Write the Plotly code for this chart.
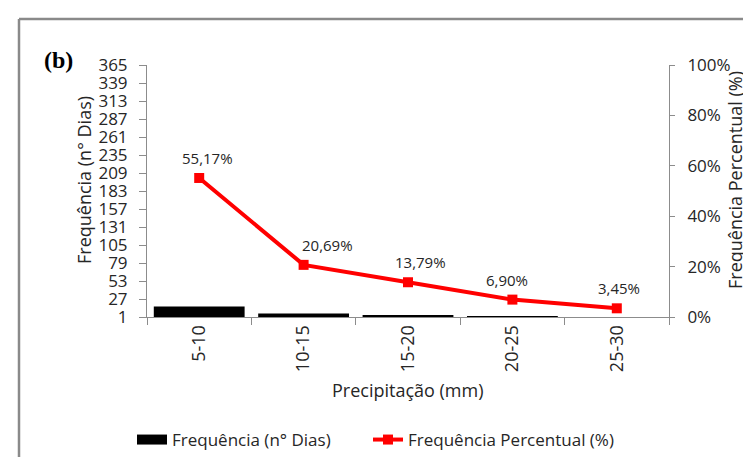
import plotly.graph_objects as go

categories = ["5-10", "10-15", "15-20", "20-25", "25-30"]
dias = [16, 6, 4, 2, 1]
percentual = [55.17, 20.69, 13.79, 6.90, 3.45]
percent_labels = ["55,17%", "20,69%", "13,79%", "6,90%", "3,45%"]
left_ticks = [1, 27, 53, 79, 105, 131, 157, 183, 209, 235, 261, 287, 313, 339, 365]
right_ticks = [0, 20, 40, 60, 80, 100]
right_tick_text = ["0%", "20%", "40%", "60%", "80%", "100%"]

label_xshift = [8, 24, 12, -5, 2]

FONT = "Open Sans"
TXT = "#262626"
AX = "#8c8c8c"

W, H = 751, 457
L, R, T, B = 139, 90, 57, 148
pw, ph = W - L - R, H - T - B


def px(x):
    return (x - L) / pw


def py(y):
    return (H - B - y) / ph


fig = go.Figure()
fig.add_trace(go.Bar(x=categories, y=dias, marker=dict(color="black", line=dict(width=0)),
                     showlegend=False, yaxis="y"))
# legend proxy for the bars (wide black rectangle as in Excel)
fig.add_trace(go.Scatter(x=[None], y=[None], mode="lines", line=dict(color="black", width=11),
                         name="Frequência (n° Dias)", legend="legend"))
fig.add_trace(go.Scatter(x=categories, y=percentual, mode="lines+markers", yaxis="y2",
                         line=dict(color="#ff0000", width=4),
                         marker=dict(symbol="square", size=10, color="#ff0000"),
                         name="Frequência Percentual (%)", legend="legend2"))

for c, v, t, dx in zip(categories, percentual, percent_labels, label_xshift):
    fig.add_annotation(x=c, y=v, yref="y2", text=t, showarrow=False, yshift=20, xshift=dx,
                       font=dict(family=FONT, size=15, color=TXT))

# frame
fig.add_shape(type="line", xref="paper", yref="paper", x0=px(11), x1=px(760), y0=py(11), y1=py(11),
              line=dict(color="#8a8a8a", width=2.5))
fig.add_shape(type="line", xref="paper", yref="paper", x0=px(11), x1=px(11), y0=py(11), y1=py(470),
              line=dict(color="#8a8a8a", width=2.5))

fig.add_annotation(xref="paper", yref="paper", x=px(34), y=py(52), xanchor="left", yanchor="middle",
                   text="<b>(b)</b>", showarrow=False,
                   font=dict(family="Liberation Serif", size=24, color="black"))

# axis titles
fig.add_annotation(xref="paper", yref="paper", x=px(62), y=py(172), textangle=-90,
                   text="Frequência (n° Dias)", showarrow=False,
                   font=dict(family=FONT, size=18, color=TXT))
fig.add_annotation(xref="paper", yref="paper", x=px(741), y=py(172), textangle=-90,
                   text="Frequência Percentual (%)", showarrow=False,
                   font=dict(family=FONT, size=18, color=TXT))
fig.add_annotation(xref="paper", yref="paper", x=px(400), y=py(396),
                   text="Precipitação (mm)", showarrow=False,
                   font=dict(family=FONT, size=18, color=TXT))

legend_common = dict(orientation="h", xanchor="left", yanchor="middle", y=py(432),
                     font=dict(size=17, color=TXT), bgcolor="rgba(0,0,0,0)")

fig.update_layout(
    width=W, height=H,
    margin=dict(l=L, r=R, t=T, b=B, autoexpand=False),
    paper_bgcolor="white", plot_bgcolor="white",
    bargap=0.13,
    font=dict(family=FONT, size=18, color=TXT),
    xaxis=dict(type="category", tickangle=-90, showline=True, linecolor=AX, linewidth=1,
               ticks="outside", tickson="boundaries", ticklen=7, tickcolor=AX,
               tickfont=dict(size=18, color=TXT), automargin=False),
    yaxis=dict(range=[1, 365], tickvals=left_ticks, showgrid=False, zeroline=False,
               showline=True, linecolor=AX, linewidth=1, ticks="outside", ticklen=7, tickcolor=AX,
               ticklabelstandoff=8,
               tickfont=dict(size=17, color=TXT), automargin=False),
    yaxis2=dict(range=[0, 100], tickvals=right_ticks, ticktext=right_tick_text,
                overlaying="y", side="right",
                showgrid=False, zeroline=False, showline=True, linecolor=AX, linewidth=1,
                ticks="outside", ticklen=5, tickcolor=AX, ticklabelstandoff=9,
                tickfont=dict(size=17, color=TXT), automargin=False),
    legend=dict(x=px(124), **legend_common),
    legend2=dict(x=px(360), **legend_common),
)

fig.write_html("out.html")
